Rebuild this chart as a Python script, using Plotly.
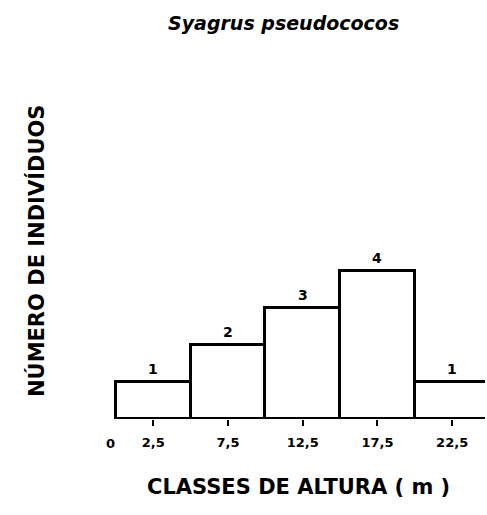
import plotly.graph_objects as go

# Data
class_centers = [2.5, 7.5, 12.5, 17.5, 22.5]
class_width = 5
counts = [1, 2, 3, 4, 1]
tick_labels = ["2,5", "7,5", "12,5", "17,5", "22,5"]
title_text = "Syagrus pseudococos"
y_title = "NÚMERO DE INDIVÍDUOS"
x_title = "CLASSES DE ALTURA ( m )"

W, H = 487, 515
L, R, T, B = 101, 2, 234, 96

fig = go.Figure()
fig.add_trace(go.Bar(
    x=class_centers,
    y=counts,
    width=[class_width] * len(counts),
    marker=dict(color="white", line=dict(color="black", width=3)),
    showlegend=False,
    hoverinfo="x+y",
))

annotations = []
for xc, c in zip(class_centers, counts):
    annotations.append(dict(
        x=xc, y=c, xref="x", yref="y", text=str(c), showarrow=False,
        yshift=13, yanchor="middle",
        font=dict(family="DejaVu Sans", size=14, color="black", weight="bold"),
    ))

# "0" label at origin
annotations.append(dict(
    x=0, y=-0.13, xref="x", yref="paper", text="0", showarrow=False,
    xshift=-5, yanchor="middle",
    font=dict(family="DejaVu Sans", size=13, color="black", weight="bold"),
))

plot_w = W - L - R
plot_h = H - T - B

def px2paper_x(px):
    return (px - L) / plot_w

def py2paper_y(py):
    return (H - B - py) / plot_h

annotations.append(dict(
    x=px2paper_x(283), y=py2paper_y(23), xref="paper", yref="paper",
    text=title_text, showarrow=False, xanchor="center", yanchor="middle",
    font=dict(family="DejaVu Sans", size=19, color="black", weight="bold", style="italic"),
))
annotations.append(dict(
    x=px2paper_x(36), y=py2paper_y(251), xref="paper", yref="paper",
    text=y_title, showarrow=False, textangle=-90, xanchor="center", yanchor="middle",
    font=dict(family="DejaVu Sans", size=21, color="black", weight="bold"),
))
annotations.append(dict(
    x=px2paper_x(298), y=py2paper_y(487), xref="paper", yref="paper",
    text=x_title, showarrow=False, xanchor="center", yanchor="middle",
    font=dict(family="DejaVu Sans", size=21, color="black", weight="bold"),
))

fig.update_layout(
    width=W, height=H,
    margin=dict(l=L, r=R, t=T, b=B),
    paper_bgcolor="white", plot_bgcolor="white",
    bargap=0,
    annotations=annotations,
    xaxis=dict(
        range=[-1, 24.7], tickvals=class_centers, ticktext=tick_labels,
        ticks="outside", ticklen=6, tickwidth=2, tickcolor="black",
        showgrid=False, zeroline=False, showline=False,
        ticklabelstandoff=5,
        tickfont=dict(family="DejaVu Sans", size=13, color="black", weight="bold"),
    ),
    yaxis=dict(
        range=[0, 5], showticklabels=False, ticks="", showgrid=False,
        zeroline=False, showline=False,
    ),
)

fig.write_html(
    "out.html",
    config={"displayModeBar": False},
    post_script="document.body.style.margin='0';document.body.style.overflow='hidden';",
)
